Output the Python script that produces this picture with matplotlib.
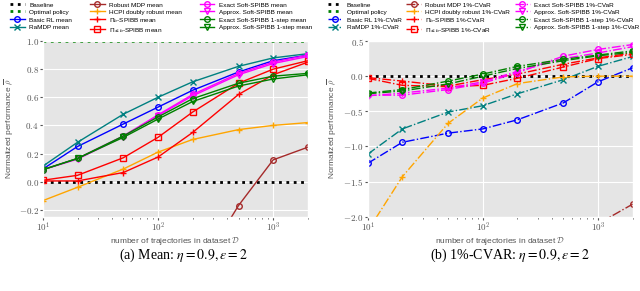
import math
import matplotlib
matplotlib.use('Agg')
import matplotlib.pyplot as plt
from matplotlib.font_manager import FontProperties
from matplotlib.ticker import FuncFormatter, LogLocator, NullFormatter, FixedLocator

# number of trajectories
n_traj = [10, 20, 50, 100, 200, 500, 1000, 2000]

# (a) mean performance
mean_baseline = [0.0, 0.0, 0.0, 0.0, 0.0, 0.0, 0.0, 0.0]
mean_optimal = [1.0, 1.0, 1.0, 1.0, 1.0, 1.0, 1.0, 1.0]
mean_basic_rl = [0.09, 0.25, 0.41, 0.53, 0.65, 0.78, 0.86, 0.90]
mean_ramdp = [0.11, 0.28, 0.48, 0.60, 0.71, 0.82, 0.88, 0.91]
mean_robust = [-3.5, -2.6, -1.8, -1.2, -0.7, -0.17, 0.155, 0.245]
mean_hcpi = [-0.135, -0.04, 0.09, 0.21, 0.30, 0.37, 0.40, 0.42]
mean_pib = [0.005, 0.005, 0.065, 0.175, 0.35, 0.62, 0.76, 0.85]
mean_pileb = [0.01, 0.045, 0.17, 0.315, 0.495, 0.70, 0.80, 0.86]
mean_exact = [0.085, 0.165, 0.325, 0.475, 0.62, 0.77, 0.85, 0.90]
mean_approx = [0.085, 0.16, 0.32, 0.47, 0.61, 0.76, 0.84, 0.89]
mean_exact_1s = [0.085, 0.165, 0.325, 0.46, 0.59, 0.70, 0.75, 0.77]
mean_approx_1s = [0.085, 0.165, 0.315, 0.445, 0.57, 0.68, 0.73, 0.76]

# (b) 1%-CVaR performance
cvar_baseline = [0.0, 0.0, 0.0, 0.0, 0.0, 0.0, 0.0, 0.0]
cvar_optimal = [1.0, 1.0, 1.0, 1.0, 1.0, 1.0, 1.0, 1.0]
cvar_basic_rl = [-1.24, -0.94, -0.81, -0.75, -0.62, -0.38, -0.08, 0.12]
cvar_ramdp = [-1.11, -0.75, -0.51, -0.42, -0.25, -0.05, 0.14, 0.28]
cvar_robust = [-8.0, -7.0, -6.0, -4.5, -3.5, -2.8, -2.1, -1.82]
cvar_hcpi = [-2.2, -1.43, -0.67, -0.31, -0.105, -0.01, 0.0, 0.0]
cvar_pib = [-0.02, -0.07, -0.14, -0.05, 0.03, 0.17, 0.26, 0.33]
cvar_pileb = [-0.03, -0.13, -0.15, -0.13, -0.03, 0.13, 0.25, 0.31]
cvar_exact = [-0.27, -0.27, -0.19, -0.10, 0.05, 0.285, 0.38, 0.45]
cvar_approx = [-0.28, -0.24, -0.17, -0.08, 0.07, 0.25, 0.33, 0.42]
cvar_exact_1s = [-0.24, -0.19, -0.07, 0.03, 0.14, 0.24, 0.30, 0.36]
cvar_approx_1s = [-0.25, -0.21, -0.11, 0.00, 0.11, 0.22, 0.29, 0.34]

names = ['Basic RL', 'RaMDP', 'Robust MDP', 'HCPI doubly robust',
         r'$\Pi_b$-SPIBB', r'$\Pi_{\leq b}$-SPIBB', 'Exact Soft-SPIBB',
         'Approx. Soft-SPIBB', 'Exact Soft-SPIBB 1-step', 'Approx. Soft-SPIBB 1-step']
colors = ['blue', 'teal', 'brown', 'orange', 'red', 'red',
          'magenta', 'magenta', 'green', 'green']
markers = ['o', 'x', 'o', '+', '+', 's', 'o', 'v', 'o', 'v']

plt.style.use('ggplot')
plt.rcParams['mathtext.fontset'] = 'cm'
sans = ['Liberation Sans', 'DejaVu Sans']


def make_panel(fig, ax, base, opt, series, suffix, ls, ylim, yticks, leg_x, col_sp, ylab_x):
    ax.plot(n_traj, base, color='black', ls=':', lw=2, label='Baseline')
    ax.plot(n_traj, opt, color='green', ls=':', lw=2, label='Optimal policy')
    for vals, name, c, m in zip(series, names, colors, markers):
        ax.plot(n_traj, vals, color=c, ls=ls, lw=1.0, marker=m, ms=4,
                mfc='none', mec=c, mew=1.0, label=name + ' ' + suffix)
    ax.set_xscale('log')
    ax.set_xlim(10, 2000)
    ax.set_ylim(*ylim)
    ax.xaxis.set_major_locator(LogLocator(base=10))
    ax.xaxis.set_minor_locator(LogLocator(base=10, subs=range(2, 10)))
    ax.xaxis.set_minor_formatter(NullFormatter())
    ax.xaxis.set_major_formatter(FuncFormatter(lambda v, p: r'$10^{%d}$' % round(math.log10(v))))
    ax.yaxis.set_major_locator(FixedLocator(yticks))
    ax.yaxis.set_major_formatter(FuncFormatter(lambda v, p: r'$%.1f$' % v))
    ax.tick_params(labelsize=6.5, colors='#555555', length=2, pad=1)
    ax.tick_params(which='minor', length=1.5)
    ax.grid(which='minor', visible=False)
    ax.set_xlabel(r'number of trajectories in dataset $\mathcal{D}$', fontsize=6,
                  color='#555555', labelpad=0.5, family=sans)
    ax.set_ylabel(r'Normalized performance $\overline{\rho}$', fontsize=6,
                  color='#555555', family=sans)
    ax.yaxis.set_label_coords(ylab_x, 0.5)
    leg_font = FontProperties(family=sans, size=4.6, math_fontfamily='dejavusans')
    ax.legend(ncol=3, loc='upper center', bbox_to_anchor=(leg_x, 1.0),
              bbox_transform=fig.transFigure, frameon=False,
              prop=leg_font, handlelength=2.3, handletextpad=0.7,
              handleheight=1.3, columnspacing=col_sp, labelspacing=0.1,
              borderaxespad=0.0, borderpad=0.15)


fig = plt.figure(figsize=(6.4, 2.91), dpi=100)
ax1 = fig.add_axes([0.067, 0.255, 0.414, 0.604])
ax2 = fig.add_axes([0.5745, 0.255, 0.414, 0.604])

make_panel(fig, ax1, mean_baseline, mean_optimal,
           [mean_basic_rl, mean_ramdp, mean_robust, mean_hcpi, mean_pib, mean_pileb,
            mean_exact, mean_approx, mean_exact_1s, mean_approx_1s],
           'mean', '-', (-0.25, 1.0), [-0.2, 0.0, 0.2, 0.4, 0.6, 0.8, 1.0],
           0.2516, 2.8, -0.102)
make_panel(fig, ax2, cvar_baseline, cvar_optimal,
           [cvar_basic_rl, cvar_ramdp, cvar_robust, cvar_hcpi, cvar_pib, cvar_pileb,
            cvar_exact, cvar_approx, cvar_exact_1s, cvar_approx_1s],
           '1%-CVaR', '-.', (-2.0, 0.5), [-2.0, -1.5, -1.0, -0.5, 0.0, 0.5],
           0.7555, 0.7, -0.108)

fig.text(0.287, 0.122, r'(a) Mean: $\eta = 0.9, \epsilon = 2$', ha='center', va='center',
         fontsize=10, family='Liberation Serif', math_fontfamily='stix')
fig.text(0.797, 0.122, r'(b) 1%-CVAR: $\eta = 0.9, \epsilon = 2$', ha='center', va='center',
         fontsize=10, family='Liberation Serif', math_fontfamily='stix')

fig.savefig('out.png', dpi=100)
